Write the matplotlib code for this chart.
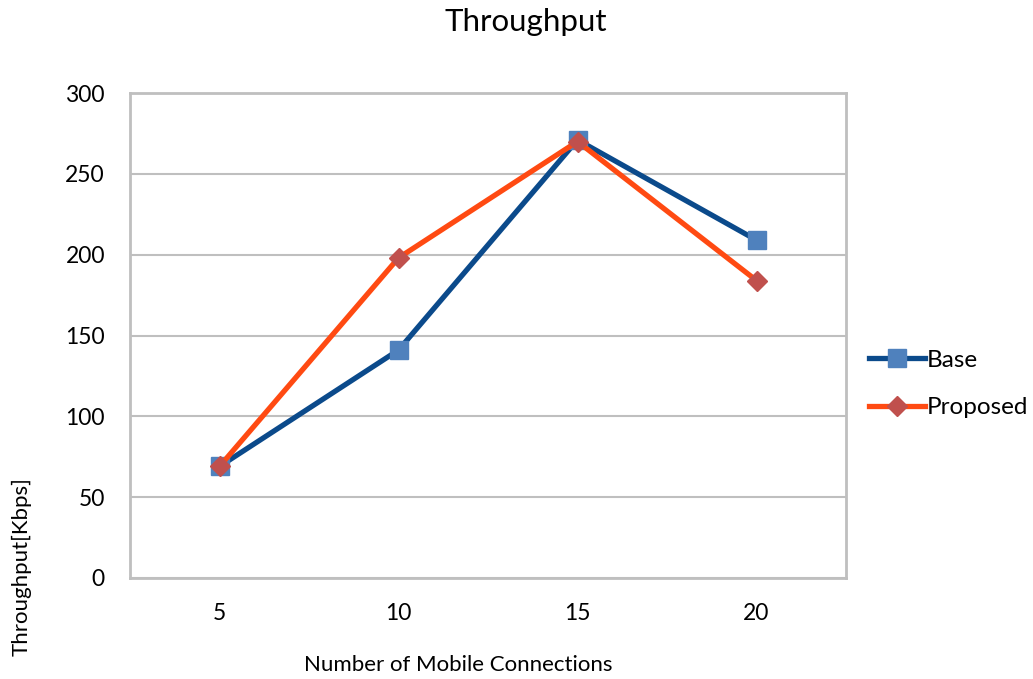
import matplotlib
matplotlib.use("Agg")
import matplotlib.pyplot as plt
from matplotlib.lines import Line2D

plt.rcParams['font.family'] = ['Lato', 'DejaVu Sans']

connections = ["5", "10", "15", "20"]
base = [69, 141, 271, 209]
proposed = [69, 198, 270, 184]
y_ticks = [0, 50, 100, 150, 200, 250, 300]

W, H = 1033, 679
fig = plt.figure(figsize=(W / 100, H / 100), dpi=100)
left, right, top, bottom = 130, 846, 93, 578
ax = fig.add_axes([left / W, 1 - bottom / H, (right - left) / W, (bottom - top) / H])

x = list(range(1, len(connections) + 1))
ax.plot(x, base, color="#0B4A8B", lw=3.8, marker="s", ms=13,
        mfc="#4F81BD", mec="#4F81BD", zorder=3, solid_capstyle="round")
ax.plot(x, proposed, color="#FF4A12", lw=3.8, marker="D", ms=10.5,
        mfc="#C0504D", mec="#C0504D", zorder=4, solid_capstyle="round")

ax.set_xlim(0.5, len(connections) + 0.5)
ax.set_ylim(0, 300)
ax.set_xticks(x)
ax.set_xticklabels(connections)
ax.set_yticks(y_ticks)
ax.tick_params(length=0, labelsize=16.5, colors="#000000")
ax.tick_params(axis="y", pad=18)
ax.tick_params(axis="x", pad=18)
ax.grid(axis="y", color="#BFBFBF", lw=1.5)
ax.set_axisbelow(True)
for s in ax.spines.values():
    s.set_color("#BFBFBF")
    s.set_linewidth(2)

fig.text(526 / W, 1 - 22 / H, "Throughput", ha="center", va="center", fontsize=22.5)
fig.text(458 / W, 1 - 665 / H, "Number of Mobile Connections", ha="center", va="center", fontsize=16)
fig.text(22 / W, 1 - 567 / H, "Throughput[Kbps]", ha="center", va="center",
         rotation=90, fontsize=16)

handles = [
    Line2D([], [], color="#0B4A8B", lw=3.8, marker="s", ms=13, mfc="#4F81BD", mec="#4F81BD"),
    Line2D([], [], color="#FF4A12", lw=3.8, marker="D", ms=10.5, mfc="#C0504D", mec="#C0504D"),
]
fig.legend(handles, ["Base", "Proposed"], loc="center left",
           bbox_to_anchor=(857 / W, 1 - 384 / H), frameon=False, fontsize=17.5,
           handlelength=2.3, handletextpad=0.05, labelspacing=1.1, borderpad=0)

fig.savefig("out.png", dpi=100)
